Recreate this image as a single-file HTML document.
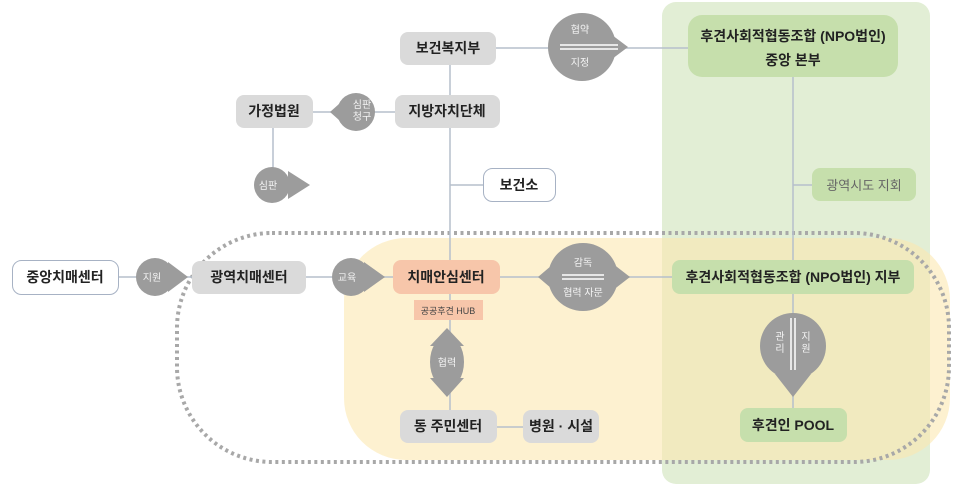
<!DOCTYPE html>
<html><head><meta charset="utf-8"><style>
html,body{margin:0;padding:0;background:#fff;}
svg{display:block;}
text{font-family:"Liberation Sans","Noto Sans CJK KR",sans-serif;}
.b{font-weight:bold;font-size:14px;fill:#222;}
.w{font-size:10px;fill:#f4f4f4;}
</style></head><body>
<svg width="960" height="491" viewBox="0 0 960 491" xmlns="http://www.w3.org/2000/svg">
<rect x="662" y="2" width="268" height="482" rx="14" fill="#e2eed5"/>
<rect x="344" y="238" width="606" height="222" rx="62" fill="#fbe8b0" fill-opacity="0.6"/>
<rect x="177" y="233" width="772" height="229" rx="95" fill="none" stroke="#a8a8a8" stroke-width="4" stroke-dasharray="3,3.5"/>
<g stroke="#b6bfcc" stroke-width="1.5" fill="none">
<line x1="450" y1="65" x2="450" y2="410"/>
<line x1="496" y1="48" x2="688" y2="48"/>
<line x1="793" y1="77" x2="793" y2="408"/>
<line x1="300" y1="112" x2="395" y2="112"/>
<line x1="273" y1="128" x2="273" y2="180"/>
<line x1="118" y1="277" x2="192" y2="277"/>
<line x1="306" y1="277" x2="393" y2="277"/>
<line x1="500" y1="277" x2="672" y2="277"/>
<line x1="497" y1="427" x2="523" y2="427"/>
<line x1="450" y1="185" x2="483" y2="185"/>
<line x1="793" y1="185" x2="812" y2="185"/>
</g>
<g fill="#9c9c9c">
<circle cx="582" cy="47" r="34"/><polygon points="608,32 628,47 608,62 612,47"/>
<circle cx="356" cy="112" r="19"/><polygon points="348,96 330,112 348,128"/>
<circle cx="272" cy="185" r="18"/><polygon points="288,171 310,185 288,199"/>
<circle cx="155" cy="277" r="19"/><polygon points="168,262 188,277 168,292"/>
<circle cx="351" cy="277" r="19"/><polygon points="364,262 385,277 364,292"/>
<ellipse cx="583" cy="277" rx="35" ry="34"/><polygon points="558,260 538,277 558,294"/><polygon points="608,260 630,277 608,294"/>
<ellipse cx="447" cy="362" rx="17" ry="26"/><polygon points="430,346 447,328 464,346"/><polygon points="430,378 447,397 464,378"/>
<circle cx="793" cy="346" r="33"/><polygon points="775,374 811,374 793,397"/>
</g>
<g stroke="#fff" stroke-width="1.5">
<line x1="560" y1="45" x2="618" y2="45"/><line x1="560" y1="49" x2="618" y2="49"/>
<line x1="562" y1="275" x2="604" y2="275"/><line x1="562" y1="279" x2="604" y2="279"/>
<line x1="791" y1="318" x2="791" y2="370"/><line x1="795" y1="318" x2="795" y2="370"/>
</g>
<g text-anchor="middle">
<text class="w" x="580" y="33">협약</text><text class="w" x="580" y="66">지정</text>
<text class="w" x="362" y="108" font-size="9">심판</text><text class="w" x="362" y="120" font-size="9">청구</text>
<text class="w" x="268" y="189">심판</text>
<text class="w" x="152" y="281">지원</text>
<text class="w" x="347" y="281">교육</text>
<text class="w" x="583" y="266">감독</text><text class="w" x="583" y="296">협력 자문</text>
<text class="w" x="447" y="366">협력</text>
<text class="w" x="780" y="340">관</text><text class="w" x="780" y="352">리</text>
<text class="w" x="806" y="340">지</text><text class="w" x="806" y="352">원</text>
</g>
<g>
<rect x="400" y="32" width="96" height="33" rx="8" fill="#dadada"/>
<rect x="395" y="95" width="105" height="33" rx="8" fill="#dadada"/>
<rect x="236" y="95" width="77" height="33" rx="8" fill="#dadada"/>
<rect x="483.5" y="168.5" width="72" height="33" rx="9" fill="#fff" stroke="#a7b2c4"/>
<rect x="12.5" y="260.5" width="106" height="34" rx="9" fill="#fff" stroke="#a7b2c4"/>
<rect x="192" y="261" width="114" height="33" rx="8" fill="#dadada"/>
<rect x="393" y="260" width="107" height="34" rx="8" fill="#f7c6aa"/>
<rect x="414" y="300" width="69" height="20" fill="#f7c6aa"/>
<rect x="400" y="410" width="97" height="33" rx="8" fill="#dadada"/>
<rect x="523" y="410" width="76" height="33" rx="8" fill="#dadada"/>
<rect x="688" y="15" width="210" height="62" rx="14" fill="#c6dfac"/>
<rect x="812" y="168" width="104" height="33" rx="8" fill="#c6dfac"/>
<rect x="672" y="260" width="242" height="34" rx="8" fill="#c6dfac"/>
<rect x="740" y="408" width="107" height="34" rx="8" fill="#c6dfac"/>
</g>
<g text-anchor="middle">
<text class="b" x="448" y="53">보건복지부</text>
<text class="b" x="447" y="116">지방자치단체</text>
<text class="b" x="274" y="116">가정법원</text>
<text class="b" x="519" y="190">보건소</text>
<text class="b" x="65" y="282">중앙치매센터</text>
<text class="b" x="249" y="282">광역치매센터</text>
<text class="b" x="446" y="282">치매안심센터</text>
<text x="448" y="314" font-size="9" fill="#444">공공후견 HUB</text>
<text class="b" x="448" y="431">동 주민센터</text>
<text class="b" x="561" y="431">병원 · 시설</text>
<text class="b" x="793" y="41" font-size="13">후견사회적협동조합 (NPO법인)</text>
<text class="b" x="793" y="65" font-size="13">중앙 본부</text>
<text x="864" y="190" font-size="13" fill="#666">광역시도 지회</text>
<text class="b" x="793" y="282" font-size="13">후견사회적협동조합 (NPO법인) 지부</text>
<text class="b" x="793" y="430" font-size="13">후견인 POOL</text>
</g>
</svg>
</body></html>
